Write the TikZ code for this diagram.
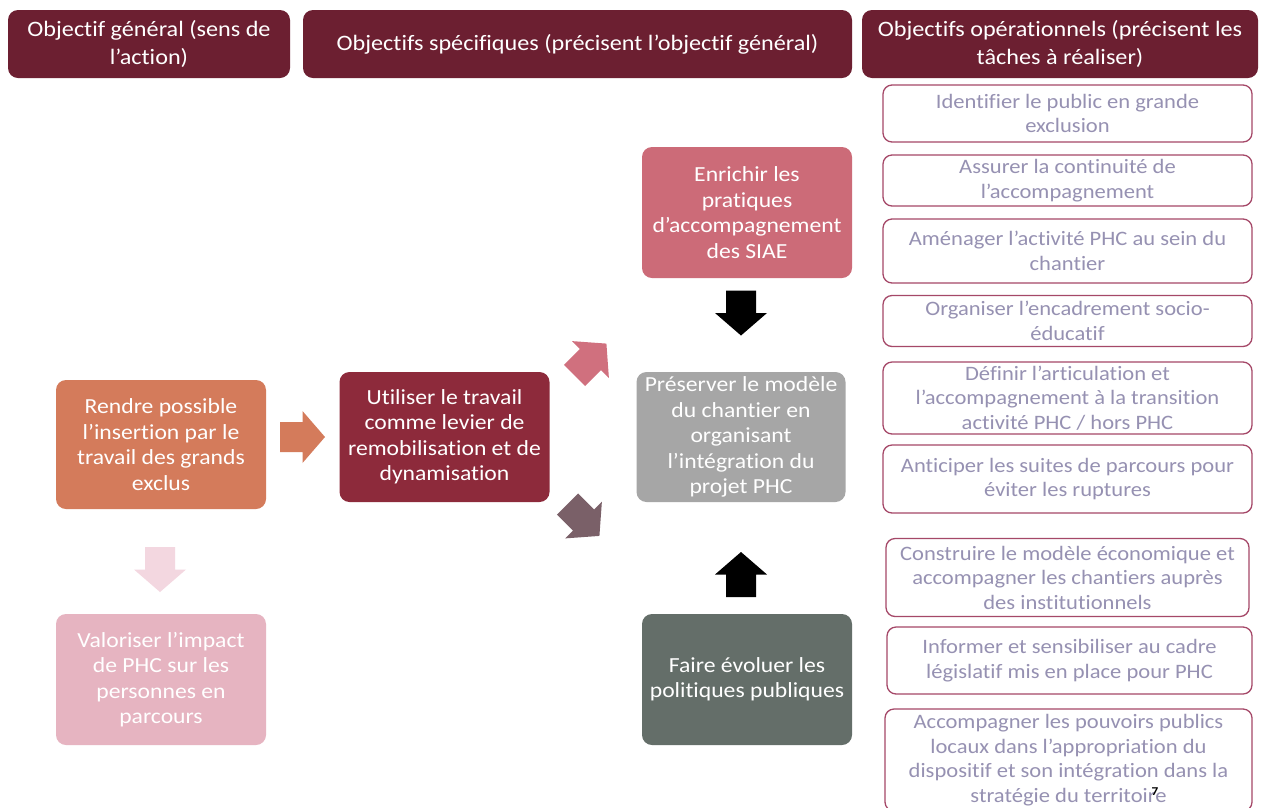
\documentclass[tikz,border=0pt]{standalone}
\usepackage{fontspec}
\setmainfont{Carlito}[FakeStretch=1.1, Ligatures=NoCommon]
\definecolor{hdr}{RGB}{108,31,49}
\definecolor{orangeb}{RGB}{212,123,91}
\definecolor{crimson}{RGB}{141,42,59}
\definecolor{rosebox}{RGB}{204,107,120}
\definecolor{greybox}{RGB}{166,166,166}
\definecolor{slatebox}{RGB}{100,110,105}
\definecolor{pinkbox}{RGB}{230,180,193}
\definecolor{pinkarrow}{RGB}{243,215,224}
\definecolor{rosearrow}{RGB}{208,112,126}
\definecolor{mauvearrow}{RGB}{122,96,104}
\definecolor{opborder}{RGB}{165,72,104}
\definecolor{optext}{RGB}{150,145,178}
\tikzset{
  hdrbox/.style={fill=hdr, rounded corners=10pt, text=white, align=center, inner sep=0pt,
    font=\fontsize{22}{28}\selectfont},
  colbox/.style={rounded corners=10pt, text=white, align=center, inner sep=0pt,
    minimum width=210pt, minimum height=130pt, font=\fontsize{21.5}{25.5}\selectfont},
  opbox/.style={draw=opborder, line width=1.3pt, rounded corners=9pt, text=optext, align=center,
    inner sep=0pt, font=\fontsize{20.5}{24.5}\selectfont},
  blockarrow/.pic={\fill[pic actions] (-22.5,-15) -- (0,-15) -- (0,-26) -- (22.5,0) -- (0,26) -- (0,15) -- (-22.5,15) -- cycle;}
}
\begin{document}
\begin{tikzpicture}[x=1pt,y=-1pt]
\useasboundingbox (0,0) rectangle (1263,807);
\fill[white] (0,0) rectangle (1263,807);

% headers
\node[hdrbox, minimum width=282pt, minimum height=68pt] (h1) at (149,44) {Objectif général (sens de\\l’action)};
\node[hdrbox, minimum width=549pt, minimum height=68pt] (h2) at (577.5,44) {Objectifs spécifiques (précisent l’objectif général)};
\node[hdrbox, minimum width=396pt, minimum height=68pt] (h3) at (1060,44) {Objectifs opérationnels (précisent les\\tâches à réaliser)};

% left column
\node[colbox, fill=orangeb, minimum height=129pt] (rendre) at (161,444.5) {Rendre possible\\l’insertion par le\\travail des grands\\exclus};
\node[colbox, fill=pinkbox, minimum height=131pt] (valo) at (161,679.5) {Valoriser l’impact\\de PHC sur les\\personnes en\\parcours};

% middle
\node[colbox, fill=crimson] (util) at (444.5,437) {Utiliser le travail\\comme levier de\\remobilisation et de\\dynamisation};
\node[colbox, fill=rosebox, minimum height=131pt] (enr) at (747,212.5) {Enrichir les\\pratiques\\d’accompagnement\\des SIAE};
\node[colbox, fill=greybox, minimum width=209pt] (pres) at (741,437) {Préserver le modèle\\du chantier en\\organisant\\l’intégration du\\projet PHC};
\node[colbox, fill=slatebox, minimum height=131pt] (faire) at (747,679.5) {Faire évoluer les\\politiques publiques};

% block arrows
\pic[fill=orangeb] at (302.5,437) {blockarrow};
\pic[fill=pinkarrow, rotate=-90] at (160,569.5) {blockarrow};
\pic[fill=black, rotate=-90] at (741,313) {blockarrow};
\pic[fill=black, rotate=90] at (741,574.5) {blockarrow};
\pic[fill=rosearrow, rotate=45] at (590.5,359.5) {blockarrow};
\pic[fill=mauvearrow, rotate=-45] at (583.5,520) {blockarrow};

% operational objectives
\node[opbox, minimum width=369pt, minimum height=57pt] (o1) at (1067.5,113.5) {Identifier le public en grande\\exclusion};
\node[opbox, minimum width=369pt, minimum height=51pt] (o2) at (1067.5,180.5) {Assurer la continuité de\\l’accompagnement};
\node[opbox, minimum width=369pt, minimum height=64pt] (o3) at (1067.5,251) {Aménager l’activité PHC au sein du\\chantier};
\node[opbox, minimum width=369pt, minimum height=51pt] (o4) at (1067.5,321) {Organiser l’encadrement socio-\\éducatif};
\node[opbox, minimum width=369pt, minimum height=72pt] (o5) at (1067.5,398) {Définir l’articulation et\\l’accompagnement à la transition\\activité PHC / hors PHC};
\node[opbox, minimum width=369pt, minimum height=68pt] (o6) at (1067.5,479) {Anticiper les suites de parcours pour\\éviter les ruptures};
\node[opbox, minimum width=363pt, minimum height=78pt] (o7) at (1067.5,577.5) {Construire le modèle économique et\\accompagner les chantiers auprès\\des institutionnels};
\node[opbox, minimum width=365pt, minimum height=67pt] (o8) at (1069.5,660.5) {Informer et sensibiliser au cadre\\législatif mis en place pour PHC};
\node[opbox, minimum width=367pt, minimum height=102pt] (o9) at (1068.5,760) {Accompagner les pouvoirs publics\\locaux dans l’appropriation du\\dispositif et son intégration dans la\\stratégie du territoire};

\node[font=\bfseries\fontsize{12}{14}\selectfont, inner sep=0pt] (pg) at (1155,792) {7};
\end{tikzpicture}
\end{document}
